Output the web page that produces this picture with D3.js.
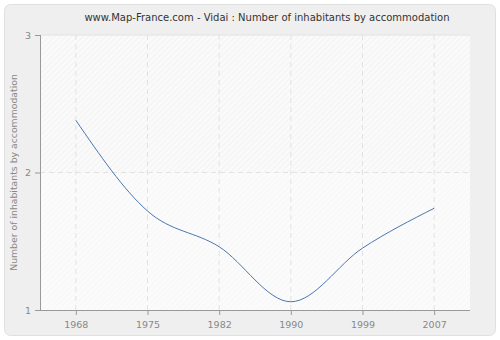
<!DOCTYPE html>
<html>
<head>
<meta charset="utf-8">
<script src="https://cdn.jsdelivr.net/npm/d3@7"></script>
<style>
body { margin: 0; background: #fff; }
text { font-family: "DejaVu Sans", Verdana, sans-serif; }
</style>
</head>
<body>
<svg id="canvas" width="500" height="340"></svg>
<script>
let years = ['1968', '1975', '1982', '1990', '1999', '2007']
let values = [2.38, 1.72, 1.46, 1.06, 1.45, 1.74]
let yTicks = [1, 2, 3]

let svg = d3.select('#canvas')

let plotLeft = 40, plotRight = 470, plotTop = 35, plotBottom = 310

// frame
svg.append('rect')
    .attr('x', 4.5).attr('y', 4.5).attr('width', 491).attr('height', 331)
    .attr('rx', 6)
    .attr('fill', '#efefef')
    .attr('stroke', '#e0e0e0')

let defs = svg.append('defs')
let hatch = defs.append('pattern')
    .attr('id', 'hatch').attr('width', 4).attr('height', 4)
    .attr('patternUnits', 'userSpaceOnUse')
    .attr('patternTransform', 'rotate(45)')
hatch.append('rect').attr('width', 4).attr('height', 4).attr('fill', '#fafafa')
hatch.append('line').attr('x1', 0).attr('y1', 0).attr('x2', 0).attr('y2', 4)
    .attr('stroke', '#ececec').attr('stroke-width', 1)
let hatch2 = defs.append('pattern')
    .attr('id', 'hatch2').attr('width', 4).attr('height', 4)
    .attr('patternUnits', 'userSpaceOnUse')
    .attr('patternTransform', 'rotate(45)')
hatch2.append('rect').attr('width', 4).attr('height', 4).attr('fill', '#fbfbfb')
hatch2.append('line').attr('x1', 0).attr('y1', 0).attr('x2', 0).attr('y2', 4)
    .attr('stroke', '#f3f3f3').attr('stroke-width', 1)

let x = d3.scalePoint().domain(years).range([plotLeft, plotRight]).padding(0.5)
let y = d3.scaleLinear().domain([1, 3]).range([plotBottom, plotTop])

// plot background bands
svg.append('rect')
    .attr('x', plotLeft).attr('y', y(3)).attr('width', plotRight - plotLeft).attr('height', y(2) - y(3))
    .attr('fill', 'url(#hatch)')
svg.append('rect')
    .attr('x', plotLeft).attr('y', y(2)).attr('width', plotRight - plotLeft).attr('height', y(1) - y(2))
    .attr('fill', 'url(#hatch2)')

// grid
svg.append('g').selectAll('line')
    .data(years)
    .enter()
    .append('line')
    .attr('x1', d => x(d)).attr('x2', d => x(d))
    .attr('y1', plotTop).attr('y2', plotBottom)
    .attr('stroke', '#e2e2e2')
    .attr('stroke-dasharray', '5,4')
svg.append('g').selectAll('line')
    .data(yTicks.filter(d => d > 1))
    .enter()
    .append('line')
    .attr('x1', plotLeft).attr('x2', plotRight)
    .attr('y1', d => y(d)).attr('y2', d => y(d))
    .attr('stroke', '#e2e2e2')
    .attr('stroke-dasharray', d => d === 3 ? null : '5,4')

// axes
let xAxis = svg.append('g')
    .attr('transform', `translate(0,${plotBottom})`)
    .call(d3.axisBottom(x).tickSize(5).tickPadding(6))
let yAxis = svg.append('g')
    .attr('transform', `translate(${plotLeft},0)`)
    .call(d3.axisLeft(y).tickValues(yTicks).tickFormat(d3.format('d')).tickSize(5).tickPadding(4))
xAxis.select('.domain').attr('d', `M${plotLeft},0.5H${plotRight}`)
yAxis.select('.domain').attr('d', `M0.5,${plotTop}V${plotBottom}`)
svg.selectAll('.domain').attr('stroke', '#999')
svg.selectAll('.tick line').attr('stroke', '#999')
svg.selectAll('.tick text').attr('fill', '#888').attr('font-size', 9.5)
    .style('font-family', '"DejaVu Sans", Verdana, sans-serif')

// line
let line = d3.line()
    .x((d, i) => x(years[i]))
    .y(d => y(d))
    .curve(d3.curveMonotoneX)
svg.append('path')
    .datum(values)
    .attr('d', line)
    .attr('fill', 'none')
    .attr('stroke', '#4a76b0')
    .attr('stroke-width', 1)

// titles
svg.append('text')
    .attr('x', 267).attr('y', 21)
    .attr('text-anchor', 'middle')
    .attr('font-size', 10)
    .attr('fill', '#333')
    .text('www.Map-France.com - Vidai : Number of inhabitants by accommodation')
svg.append('text')
    .attr('transform', `translate(17,${(plotTop + plotBottom) / 2}) rotate(-90)`)
    .attr('text-anchor', 'middle')
    .attr('font-size', 9.3)
    .attr('fill', '#888')
    .text('Number of inhabitants by accommodation')
</script>
</body>
</html>
